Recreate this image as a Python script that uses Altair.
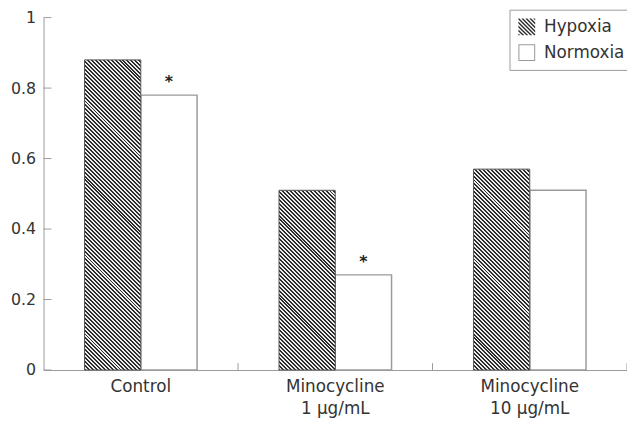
import math
import altair as alt
import pandas as pd

# ---- data ----
groups = ["Control", "Minocycline|1 µg/mL", "Minocycline|10 µg/mL"]
conditions = ["Hypoxia", "Normoxia"]
hypoxia = [0.88, 0.51, 0.57]
normoxia = [0.78, 0.27, 0.51]
normoxia_marks = ["*", "*", ""]
y_ticks = [0, 0.2, 0.4, 0.6, 0.8, 1.0]

# ---- layout / style ----
W, H = 591, 357
OUTER = 0.728
BAND = W / len(groups)
BAR_W = BAND / (2 + 2 * OUTER)
PERIOD = 2 * math.sqrt(2)   # perpendicular hatch period in px (4 px horizontally)
DUTY = 0.5
DARK, LIGHT = "#2b2b2b", "#ececec"
AXIS_GRAY = "#9a9a9a"
TEXT = "#333333"
FONT = "DejaVu Sans"

rows = []
for g, h, n, m in zip(groups, hypoxia, normoxia, normoxia_marks):
    rows.append({"group": g, "cond": "Hypoxia", "value": h, "mark": ""})
    rows.append({"group": g, "cond": "Normoxia", "value": n, "mark": m})
df = pd.DataFrame(rows)


def hatch_gradient(value):
    h = value * H
    w = BAR_W
    a = w / h
    k = (a + 1) / (a * a + 1)
    n = (w + h) / (math.sqrt(2) * PERIOD)
    stops = []
    i = 0
    while i / n < 1:
        a0 = i / n
        a1 = min((i + DUTY) / n, 1)
        a2 = min((i + 1) / n, 1)
        stops += [
            alt.GradientStop(offset=a0, color=DARK),
            alt.GradientStop(offset=a1, color=DARK),
            alt.GradientStop(offset=a1, color=LIGHT),
            alt.GradientStop(offset=a2, color=LIGHT),
        ]
        i += 1
    return alt.LinearGradient(gradient="linear", stops=stops, x1=0, y1=1, x2=k * a, y2=1 - k)


def clip(poly, f):
    out = []
    for i in range(len(poly)):
        p, q = poly[i], poly[(i + 1) % len(poly)]
        fp, fq = f(p), f(q)
        if fp >= 0:
            out.append(p)
        if (fp >= 0) != (fq >= 0):
            t = fp / (fp - fq)
            out.append((p[0] + t * (q[0] - p[0]), p[1] + t * (q[1] - p[1])))
    return out


def hatch_symbol():
    sym_px = 17
    dc = PERIOD * math.sqrt(2) / (sym_px / 2)
    d = dc * DUTY
    square = [(-1, -1), (1, -1), (1, 1), (-1, 1)]
    path = ""
    c = -2.0
    while c < 2.0:
        poly = clip(square, lambda p, c=c: (p[0] - p[1]) - c)
        poly = clip(poly, lambda p, c=c: c + d - (p[0] - p[1]))
        if len(poly) >= 3:
            path += "M" + "L".join(f"{x:.3f},{y:.3f}" for x, y in poly) + "Z"
        c += dc
    return path


ring = "M-1,-1L1,-1L1,1L-1,1ZM-0.88,-0.88L-0.88,0.88L0.88,0.88L0.88,-0.88Z"

x_axis = alt.Axis(title=None, labelAngle=0, ticks=False, labelExpr="split(datum.label, '|')",
                  labelFontSize=17, labelLineHeight=22, labelPadding=9, domainColor=AXIS_GRAY,
                  labelColor=TEXT, labelFont=FONT)
x_scale = alt.Scale(domain=groups, paddingInner=0, paddingOuter=0)
y_axis = alt.Axis(title=None, values=y_ticks, format=".1~f", ticks=False, labelPadding=8,
                  labelFontSize=16, labelColor=TEXT, labelFont=FONT, domainColor=AXIS_GRAY, grid=False)
y_scale = alt.Scale(domain=[0, 1], nice=False, zero=True)

X = alt.X("group:N", scale=x_scale, axis=x_axis)
XO = alt.XOffset("cond:N", scale=alt.Scale(domain=conditions, paddingInner=0, paddingOuter=OUTER))
Y = alt.Y("value:Q", scale=y_scale, axis=y_axis)

base = alt.Chart(df)

points = base.transform_calculate(mid="datum.value / 2").mark_point(filled=True, size=289, opacity=1).encode(
    x=X, xOffset=XO,
    y=alt.Y("mid:Q", scale=y_scale, axis=y_axis),
    fill=alt.Fill("cond:N", title=None, scale=alt.Scale(domain=conditions, range=[DARK, AXIS_GRAY])),
    shape=alt.Shape("cond:N", title=None, scale=alt.Scale(domain=conditions, range=[hatch_symbol(), ring])),
)

norm_bars = base.transform_filter(alt.datum.cond == "Normoxia").mark_bar(
    fill="white", stroke=AXIS_GRAY, strokeWidth=1.5).encode(x=X, xOffset=XO, y=Y)

hyp_layers = []
for g, v in zip(groups, hypoxia):
    hyp_layers.append(
        base.transform_filter((alt.datum.cond == "Hypoxia") & (alt.datum.group == g)).mark_bar(
            fill=hatch_gradient(v), stroke="#555555", strokeWidth=1).encode(x=X, xOffset=XO, y=Y)
    )

stars = base.transform_filter(alt.datum.mark != "").mark_text(
    fontSize=16, fontWeight="bold", baseline="alphabetic", dy=-8, color="#222222", font=FONT
).encode(x=X, xOffset=XO, y=Y, text="mark:N")

x_ticks = alt.Chart(pd.DataFrame({"group": groups})).mark_rule(color=AXIS_GRAY).encode(
    x=alt.X("group:N", bandPosition=1, scale=x_scale, axis=x_axis),
    y=alt.value(H - 7), y2=alt.value(H),
)

y_tick_rules = alt.Chart(pd.DataFrame({"tick": y_ticks})).mark_rule(color=AXIS_GRAY).encode(
    y=alt.Y("tick:Q", scale=y_scale, axis=y_axis),
    x=alt.value(0), x2=alt.value(8),
)

chart = alt.layer(points, norm_bars, *hyp_layers, stars, x_ticks, y_tick_rules).properties(
    width=W, height=H,
    autosize=alt.AutoSizeParams(type="none"),
    padding={"left": 36, "top": 7, "right": 0, "bottom": 55},
    background="white",
).configure_view(stroke=None).configure_legend(
    orient="none", legendX=472, legendY=-8, fillColor="white", strokeColor=AXIS_GRAY,
    padding=9, symbolSize=289, symbolStrokeWidth=0, labelFontSize=17, labelFont=FONT,
    labelColor=TEXT, rowPadding=8, labelOffset=9, titlePadding=0,
)

chart.save("out.html", embed_options={"renderer": "svg", "actions": False})
